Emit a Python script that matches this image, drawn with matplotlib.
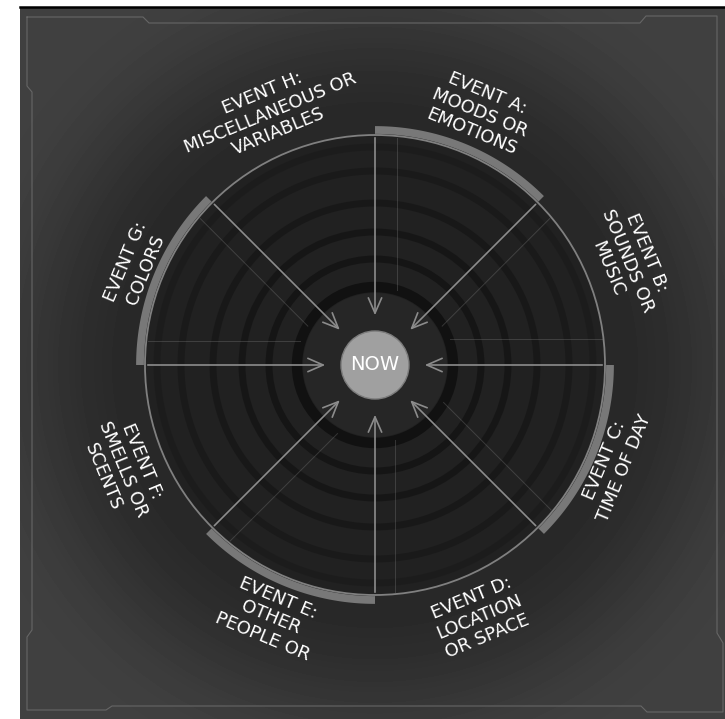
import numpy as np
import matplotlib.pyplot as plt
from matplotlib.patches import Circle, FancyArrowPatch

plt.rcParams['font.family'] = ['DejaVu Sans']

# eight events around the "now" centre
events = ["A", "B", "C", "D", "E", "F", "G", "H"]
topics = ["MOODS OR\nEMOTIONS", "SOUNDS OR\nMUSIC", "TIME OF DAY", "LOCATION\nOR SPACE",
          "OTHER\nPEOPLE OR", "SMELLS OR\nSCENTS", "COLORS", "MISCELLANEOUS OR\nVARIABLES"]
highlighted = [True, False, True, False, True, False, True, False]
ring_radii = [106, 133, 162, 194, 218]
ring_alpha = [0.7, 0.6, 0.5, 0.4, 0.25]
spoke_offsets = [-22, -20, 26, 22, 20, 22, -24, 20]   # faint parallel guide lines

fig = plt.figure(figsize=(7.25, 7.19), dpi=100, facecolor="white")
ax = fig.add_axes([0, 0, 1, 1])
ax.set_xlim(0, 725)
ax.set_ylim(0, 719)
ax.set_aspect("equal")
ax.axis("off")

cx, cy = 375, 354
R = 230


def pt(r, deg):
    a = np.radians(deg)
    return cx + r * np.cos(a), cy + r * np.sin(a)


# background panel with dark halo around the wheel
yy, xx = np.mgrid[0:712, 20:725]
rr = np.hypot(xx + 0.5 - cx, yy + 0.5 - cy)
s = np.clip((rr - 240) / 180, 0, 1)
s = s * s * (3 - 2 * s)
bg = 0.16 + (0.25 - 0.16) * s
ax.imshow(bg, cmap="gray", vmin=0, vmax=1, extent=(20, 725, 0, 712),
          origin="lower", zorder=0, interpolation="bilinear")
ax.plot([20, 725], [712.5, 712.5], color="black", lw=1.8, zorder=1)

# thin decorative frame
frame = [(27, 17), (143, 17), (149, 23), (640, 23), (646, 16), (717, 16),
         (717, 633), (723, 643), (723, 712), (647, 712), (641, 706), (112, 706),
         (106, 710), (27, 710), (27, 637), (32, 630), (32, 92), (27, 86), (27, 17)]
fx = [p[0] for p in frame]
fy = [719 - p[1] for p in frame]
ax.plot(fx, fy, color="#666666", lw=0.8, zorder=1)

# wheel body
ax.add_patch(Circle((cx, cy), R, facecolor="#212121", edgecolor="none", zorder=2))
for r, a in zip(ring_radii, ring_alpha):
    ax.add_patch(Circle((cx, cy), r, facecolor="none", edgecolor="#101010",
                        lw=5, alpha=a, zorder=3))
ax.add_patch(Circle((cx, cy), 72, facecolor="#262626", edgecolor="none", zorder=3))
ax.add_patch(Circle((cx, cy), 78, facecolor="none", edgecolor="#111111", lw=7.5, zorder=3))
ax.add_patch(Circle((cx, cy), R, facecolor="none", edgecolor="#808080", lw=1.3, zorder=5))

# highlighted outer arcs
for i, h in enumerate(highlighted):
    if not h:
        continue
    th = np.linspace(90 - 45 * (i + 1), 90 - 45 * i, 80)
    xs, ys = pt(235, th)
    ax.plot(xs, ys, color="#787878", lw=5.6, solid_capstyle="butt", zorder=6)

# faint guide lines parallel to the spokes
for i, d in enumerate(spoke_offsets):
    a = np.radians(90 - 45 * i)
    u = np.array([np.cos(a), np.sin(a)])
    p = np.array([-np.sin(a), np.cos(a)])
    t1 = np.sqrt(228 ** 2 - d ** 2)
    t = np.array([75, t1])
    ax.plot(cx + d * p[0] + t * u[0], cy + d * p[1] + t * u[1],
            color="#8a8a8a", lw=0.7, alpha=0.3, zorder=4)

# spokes with arrows pointing at the centre
for i in range(8):
    ang = 90 - 45 * i
    arr = FancyArrowPatch(pt(R, ang), pt(47, ang),
                          arrowstyle="->,head_length=0.55,head_width=0.24",
                          mutation_scale=20, color="#8c8c8c", lw=1.2, zorder=7)
    ax.add_patch(arr)

# centre
ax.add_patch(Circle((cx, cy), 34, facecolor="#a0a0a0", edgecolor="#7c7c7c", lw=1, zorder=8))
ax.text(cx, cy, "NOW", ha="center", va="center", color="white", fontsize=14,
        zorder=9)

# event labels
for i, (ev, tp) in enumerate(zip(events, topics)):
    mid = 67.5 - 45 * i
    if mid < -180:
        mid += 360
    nlines = tp.count("\n") + 2
    rad = 273 if nlines == 3 else 259
    rot = mid - 90 if mid > 0 else mid + 90
    x, y = pt(rad, mid)
    ax.text(x, y, "EVENT " + ev + ":\n" + tp, ha="center", va="center",
            rotation=rot, rotation_mode="anchor", multialignment="center",
            color="white", fontsize=13, linespacing=1.2, zorder=9)

fig.savefig("out.png", dpi=100, facecolor="white")
